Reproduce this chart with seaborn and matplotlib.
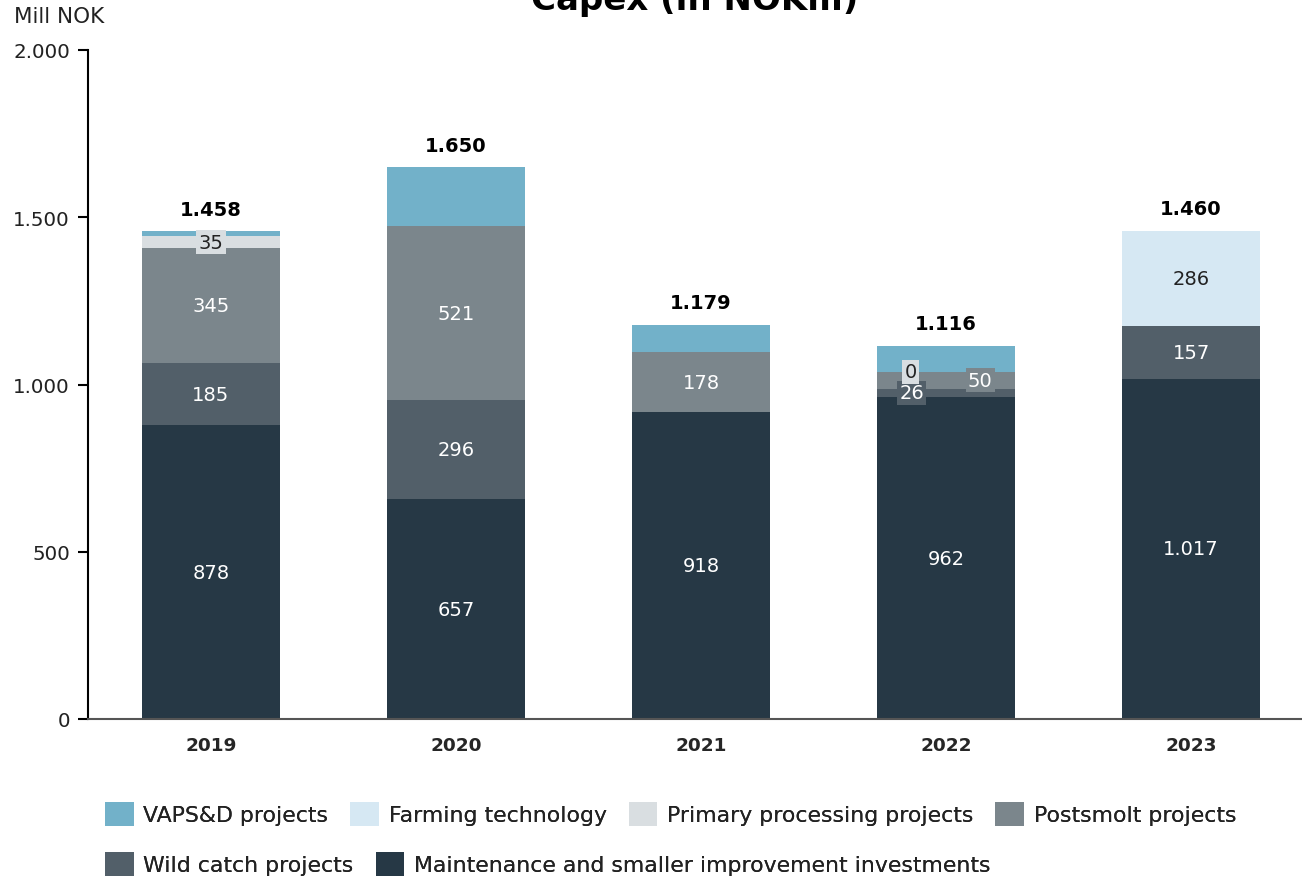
import numpy as np
import matplotlib
matplotlib.use('Agg')
import matplotlib.pyplot as plt
import seaborn as sns
from matplotlib.patches import Patch

# data (Mill NOK), bottom layer first
years = ['2019', '2020', '2021', '2022', '2023']
maintenance = [878, 657, 918, 962, 1017]
wild_catch = [185, 296, 0, 26, 157]
postsmolt = [345, 521, 178, 50, 0]
primary = [35, 0, 0, 0, 0]
farming = [0, 0, 0, 0, 286]
vaps = [15, 176, 83, 78, 0]
totals = [1458, 1650, 1179, 1116, 1460]

series_names = ['Maintenance and smaller improvement investments', 'Wild catch projects',
                'Postsmolt projects', 'Primary processing projects', 'Farming technology',
                'VAPS&D projects']
series_values = [maintenance, wild_catch, postsmolt, primary, farming, vaps]
colors = ['#263845', '#525f69', '#7b868c', '#d9dee1', '#d6e8f3', '#72b1c9']
text_colors = ['white', 'white', 'white', '#222222', '#222222', None]

sns.set_style('white')
plt.rcParams['font.family'] = ['DejaVu Sans']

fig = plt.figure(figsize=(13.02, 8.78), dpi=100)
ax = fig.add_axes([88 / 1302, 158 / 878, 1214 / 1302, 669 / 878])

# stacked bars: draw cumulative heights from the top layer down
cum = np.cumsum(np.array(series_values), axis=0)
for i in reversed(range(len(series_values))):
    sns.barplot(x=years, y=cum[i], order=years, color=colors[i], saturation=1,
                width=0.563, linewidth=0, errorbar=None, ax=ax)

def fmt(v):
    return f'{v:,}'.replace(',', '.')

# segment labels; small 2022 segments get pushed sideways
shift_2022 = {1: -0.14, 2: 0.14, 3: -0.145}
for i, vals in enumerate(series_values):
    if text_colors[i] is None:
        continue
    for j, v in enumerate(vals):
        show = v > 0 or (i == 3 and years[j] == '2022')
        if not show:
            continue
        bottom = cum[i][j] - v
        dx = shift_2022.get(i, 0) if years[j] == '2022' else 0
        ax.text(j + dx, bottom + v / 2, fmt(v), ha='center', va='center',
                fontsize=14, color=text_colors[i],
                bbox=dict(boxstyle='square,pad=0.12', fc=colors[i], ec='none'))

for j, t in enumerate(totals):
    ax.annotate(fmt(t), (j, t), xytext=(0, 9), textcoords='offset points',
                ha='center', va='bottom', fontsize=14, fontweight='bold', color='black')

ax.set_ylim(0, 2000)
ax.set_xlim(-0.502, 4.453)
ax.set_yticks([0, 500, 1000, 1500, 2000])
ax.set_yticklabels([fmt(v) for v in [0, 500, 1000, 1500, 2000]])
ax.tick_params(axis='y', length=7, width=1.5, color='black', labelsize=14.3,
               labelcolor='#222222', pad=6, left=True)
ax.tick_params(axis='x', length=0, labelsize=13.3, pad=12)
for lbl in ax.get_xticklabels():
    lbl.set_fontweight('bold')
ax.set_xlabel('')
ax.set_ylabel('')
sns.despine(ax=ax, top=True, right=True)
ax.spines['left'].set_color('black')
ax.spines['left'].set_linewidth(1.5)
ax.spines['bottom'].set_color('#555555')
ax.spines['bottom'].set_linewidth(1.5)

fig.text(14 / 1302, 1 - 17 / 878, 'Mill NOK', ha='left', va='center', fontsize=15.5, color='#222222')
fig.text(695 / 1302, 1 - 10 / 878, 'Capex (in NOKm)', ha='center', va='baseline',
         fontsize=24.5, fontweight='bold', color='black')

# legend in two rows, left aligned
handles = [Patch(facecolor=c, edgecolor='none') for c in colors]
row1 = [5, 4, 3, 2]
row2 = [1, 0]
for row, yc in [(row1, 1 - 815 / 878), (row2, 1 - 865 / 878)]:
    leg = fig.legend([handles[k] for k in row], [series_names[k] for k in row],
                     loc='center left', bbox_to_anchor=(105 / 1302, yc), ncol=len(row),
                     frameon=False, fontsize=15.8, handlelength=1.3, handleheight=1.35,
                     handletextpad=0.45, columnspacing=1.0, borderpad=0, borderaxespad=0)
    for txt in leg.get_texts():
        txt.set_color('#222222')
    fig.add_artist(leg)

fig.savefig('out.png', dpi=100)
